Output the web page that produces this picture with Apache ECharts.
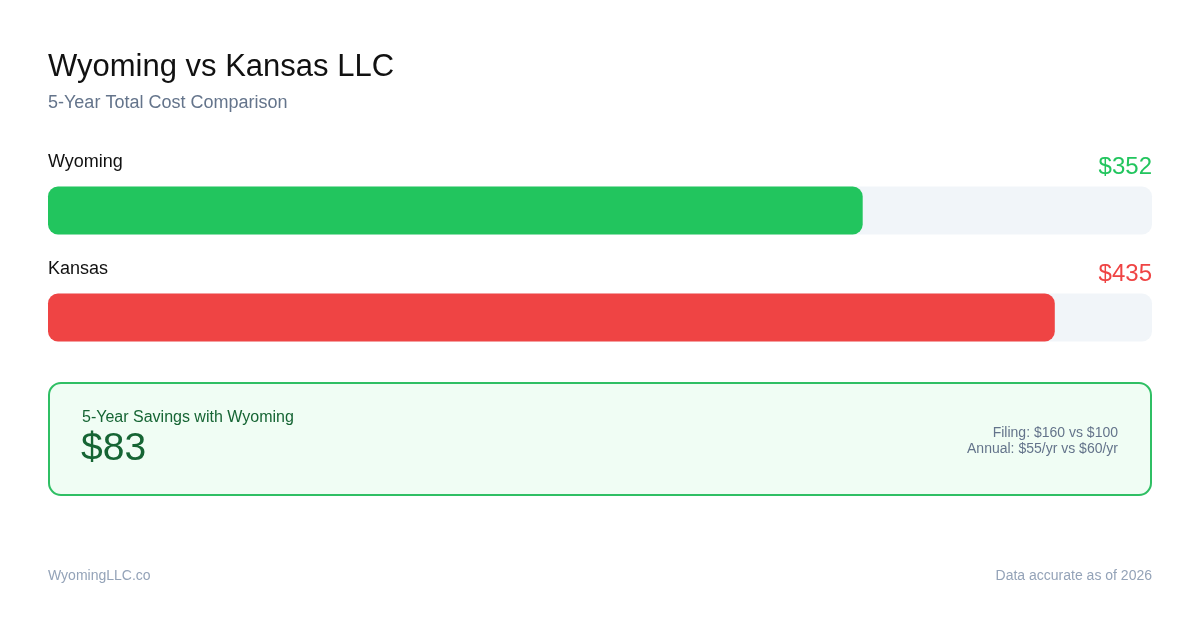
<!DOCTYPE html>
<html>
<head>
<meta charset="utf-8">
<script src="https://cdn.jsdelivr.net/npm/echarts@6/dist/echarts.min.js"></script>
<style>
  html, body { margin: 0; padding: 0; background: #fff; }
  #chart { width: 1200px; height: 630px; }
</style>
</head>
<body>
<div id="chart"></div>
<script>
// data
const states = ["Wyoming", "Kansas"];
const fiveYearCost = [352, 435];
const barColors = ["#22c55e", "#ef4444"];
const filingFees = [100, 160];   // Wyoming, Kansas
const annualFees = [60, 55];     // Wyoming, Kansas

const FONT = "'Liberation Sans', Arial, sans-serif";
const scaleMax = 477;
const savings = fiveYearCost[1] - fiveYearCost[0];

var chart = echarts.init(document.getElementById("chart"), null, { renderer: "canvas" });

chart.setOption({
  backgroundColor: "#ffffff",
  animation: false,
  textStyle: { fontFamily: FONT },
  grid: { left: 48, right: 48, top: 157, height: 214, containLabel: false },
  xAxis: { type: "value", min: 0, max: scaleMax, show: false },
  yAxis: { type: "category", data: states, inverse: true, show: false },
  series: [
    {
      // track behind each bar, carries the price label on the right
      name: "track",
      type: "bar",
      barWidth: 48,
      barGap: "-100%",
      silent: true,
      data: states.map((s, i) => ({
        value: scaleMax,
        label: { color: barColors[i] }
      })),
      itemStyle: { color: "#f1f5f9", borderRadius: 10 },
      label: {
        show: true,
        position: ["100%", 0],
        align: "right",
        verticalAlign: "middle",
        offset: [0, -19],
        fontSize: 24,
        fontFamily: FONT,
        formatter: p => "$" + fiveYearCost[p.dataIndex]
      }
    },
    {
      name: "cost",
      type: "bar",
      barWidth: 48,
      barGap: "-100%",
      data: fiveYearCost.map((v, i) => ({
        value: v,
        itemStyle: { color: barColors[i] }
      })),
      itemStyle: { borderRadius: 10 },
      label: {
        show: true,
        position: [0, 0],
        align: "left",
        verticalAlign: "middle",
        offset: [0, -24],
        fontSize: 18,
        fontFamily: FONT,
        color: "#111111",
        formatter: p => p.name
      }
    }
  ],
  graphic: [
    {
      type: "text", x: 48, y: 67,
      style: { text: "Wyoming vs Kansas LLC", fontSize: 31, fontFamily: FONT, fill: "#111111", verticalAlign: "middle" }
    },
    {
      type: "text", x: 48, y: 103,
      style: { text: "5-Year Total Cost Comparison", fontSize: 18, fontFamily: FONT, fill: "#64748b", verticalAlign: "middle" }
    },
    {
      type: "rect",
      shape: { x: 49, y: 383, width: 1102, height: 112, r: 12 },
      style: { fill: "#f0fdf4", stroke: "#2fbf64", lineWidth: 2 }
    },
    {
      type: "text", x: 82, y: 418,
      style: { text: "5-Year Savings with Wyoming", fontSize: 16, fontFamily: FONT, fill: "#166534", verticalAlign: "middle" }
    },
    {
      type: "text", x: 81, y: 449,
      style: { text: "$" + savings, fontSize: 39, fontFamily: FONT, fill: "#166534", verticalAlign: "middle" }
    },
    {
      type: "text", x: 1118, y: 433,
      style: { text: "Filing: $" + filingFees[1] + " vs $" + filingFees[0], fontSize: 14, fontFamily: FONT, fill: "#64748b", align: "right", verticalAlign: "middle" }
    },
    {
      type: "text", x: 1118, y: 449,
      style: { text: "Annual: $" + annualFees[1] + "/yr vs $" + annualFees[0] + "/yr", fontSize: 14, fontFamily: FONT, fill: "#64748b", align: "right", verticalAlign: "middle" }
    },
    {
      type: "text", x: 48, y: 576,
      style: { text: "WyomingLLC.co", fontSize: 14, fontFamily: FONT, fill: "#94a3b8", verticalAlign: "middle" }
    },
    {
      type: "text", x: 1152, y: 576,
      style: { text: "Data accurate as of 2026", fontSize: 14, fontFamily: FONT, fill: "#94a3b8", align: "right", verticalAlign: "middle" }
    }
  ]
});
</script>
</body>
</html>
